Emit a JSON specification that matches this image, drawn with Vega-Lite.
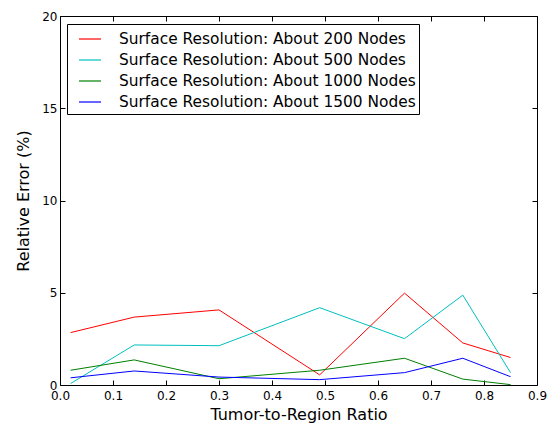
{
  "$schema": "https://vega.github.io/schema/vega-lite/v6.json",
  "width": 477,
  "height": 369,
  "autosize": "none",
  "padding": {"left": 60, "top": 16, "right": 19, "bottom": 39},
  "background": "white",
  "config": {
    "font": "DejaVu Sans",
    "view": {"stroke": "black", "strokeWidth": 1}
  },
  "data": {
    "values": [
      {"ratio": 0.02, "error": 2.84, "series": "Surface Resolution: About 200 Nodes"},
      {"ratio": 0.14, "error": 3.68, "series": "Surface Resolution: About 200 Nodes"},
      {"ratio": 0.30, "error": 4.07, "series": "Surface Resolution: About 200 Nodes"},
      {"ratio": 0.49, "error": 0.55, "series": "Surface Resolution: About 200 Nodes"},
      {"ratio": 0.65, "error": 4.98, "series": "Surface Resolution: About 200 Nodes"},
      {"ratio": 0.76, "error": 2.28, "series": "Surface Resolution: About 200 Nodes"},
      {"ratio": 0.85, "error": 1.49, "series": "Surface Resolution: About 200 Nodes"},
      {"ratio": 0.02, "error": 0.08, "series": "Surface Resolution: About 500 Nodes"},
      {"ratio": 0.14, "error": 2.17, "series": "Surface Resolution: About 500 Nodes"},
      {"ratio": 0.30, "error": 2.13, "series": "Surface Resolution: About 500 Nodes"},
      {"ratio": 0.49, "error": 4.19, "series": "Surface Resolution: About 500 Nodes"},
      {"ratio": 0.65, "error": 2.51, "series": "Surface Resolution: About 500 Nodes"},
      {"ratio": 0.76, "error": 4.87, "series": "Surface Resolution: About 500 Nodes"},
      {"ratio": 0.85, "error": 0.67, "series": "Surface Resolution: About 500 Nodes"},
      {"ratio": 0.02, "error": 0.80, "series": "Surface Resolution: About 1000 Nodes"},
      {"ratio": 0.14, "error": 1.36, "series": "Surface Resolution: About 1000 Nodes"},
      {"ratio": 0.30, "error": 0.34, "series": "Surface Resolution: About 1000 Nodes"},
      {"ratio": 0.49, "error": 0.80, "series": "Surface Resolution: About 1000 Nodes"},
      {"ratio": 0.65, "error": 1.45, "series": "Surface Resolution: About 1000 Nodes"},
      {"ratio": 0.76, "error": 0.32, "series": "Surface Resolution: About 1000 Nodes"},
      {"ratio": 0.85, "error": 0.02, "series": "Surface Resolution: About 1000 Nodes"},
      {"ratio": 0.02, "error": 0.39, "series": "Surface Resolution: About 1500 Nodes"},
      {"ratio": 0.14, "error": 0.76, "series": "Surface Resolution: About 1500 Nodes"},
      {"ratio": 0.30, "error": 0.43, "series": "Surface Resolution: About 1500 Nodes"},
      {"ratio": 0.49, "error": 0.29, "series": "Surface Resolution: About 1500 Nodes"},
      {"ratio": 0.65, "error": 0.67, "series": "Surface Resolution: About 1500 Nodes"},
      {"ratio": 0.76, "error": 1.45, "series": "Surface Resolution: About 1500 Nodes"},
      {"ratio": 0.85, "error": 0.45, "series": "Surface Resolution: About 1500 Nodes"}
    ]
  },
  "layer": [
    {
      "mark": {"type": "line", "strokeWidth": 1, "clip": true},
      "encoding": {
        "x": {
          "field": "ratio", "type": "quantitative",
          "scale": {"domain": [0, 0.9], "nice": false, "zero": false},
          "axis": {
            "title": "Tumor-to-Region Ratio", "titleFontSize": 16, "titleFontWeight": "normal", "titleColor": "black", "titlePadding": 5,
            "values": [0, 0.1, 0.2, 0.3, 0.4, 0.5, 0.6, 0.7, 0.8, 0.9], "format": ".1f",
            "labelFontSize": 12, "labelColor": "black", "labelPadding": 10, "labelFlush": false,
            "tickSize": -5, "tickColor": "black", "domain": false, "grid": false
          }
        },
        "y": {
          "field": "error", "type": "quantitative",
          "scale": {"domain": [0, 20], "nice": false},
          "axis": {
            "title": "Relative Error (%)", "titleFontSize": 16, "titleFontWeight": "normal", "titleColor": "black", "titlePadding": 10,
            "values": [0, 5, 10, 15, 20], "format": "d",
            "labelFontSize": 12, "labelColor": "black", "labelPadding": 8, "labelFlush": false,
            "tickSize": -5, "tickColor": "black", "domain": false, "grid": false
          }
        },
        "color": {
          "field": "series", "type": "nominal",
          "scale": {
            "domain": ["Surface Resolution: About 200 Nodes", "Surface Resolution: About 500 Nodes", "Surface Resolution: About 1000 Nodes", "Surface Resolution: About 1500 Nodes"],
            "range": ["#ff0000", "#00bfbf", "#008000", "#0000ff"]
          },
          "legend": {
            "title": null, "orient": "none", "legendX": 7, "legendY": 8,
            "strokeColor": "black", "fillColor": "white", "padding": 3,
            "symbolType": "stroke", "symbolSize": 484, "symbolStrokeWidth": 1.2, "symbolOffset": 8,
            "labelFontSize": 15.4, "labelColor": "black", "labelOffset": 17, "rowPadding": 0,
            "labelLimit": 400
          }
        }
      }
    },
    {
      "mark": {"type": "line", "opacity": 0},
      "encoding": {
        "x": {
          "field": "ratio", "type": "quantitative",
          "axis": {"orient": "top", "title": null, "labels": false, "values": [0, 0.1, 0.2, 0.3, 0.4, 0.5, 0.6, 0.7, 0.8, 0.9], "tickSize": -5, "tickColor": "black", "domain": false, "grid": false}
        },
        "y": {
          "field": "error", "type": "quantitative",
          "axis": {"orient": "right", "title": null, "labels": false, "values": [0, 5, 10, 15, 20], "tickSize": -5, "tickColor": "black", "domain": false, "grid": false}
        },
        "detail": {"field": "series"}
      }
    }
  ],
  "resolve": {"axis": {"x": "independent", "y": "independent"}}
}
